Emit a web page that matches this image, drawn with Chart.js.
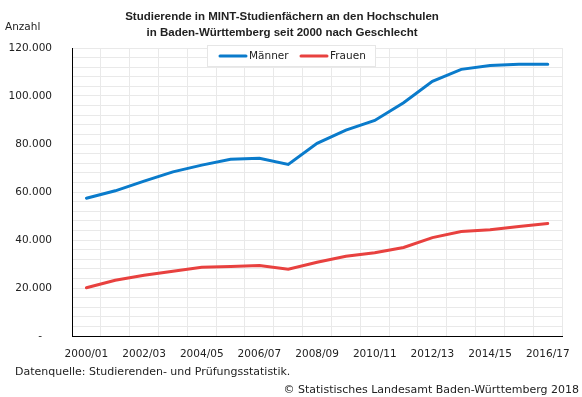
<!DOCTYPE html>
<html>
<head>
<meta charset="utf-8">
<script src="https://cdn.jsdelivr.net/npm/chart.js@4.4.1/dist/chart.umd.min.js"></script>
<style>
  html, body { margin: 0; padding: 0; background: #fff; }
  #wrap { width: 582px; height: 397px; }
</style>
</head>
<body>
<div id="wrap"><canvas id="chart" width="582" height="397"></canvas></div>
<script>
const years = ['2000/01','2001/02','2002/03','2003/04','2004/05','2005/06','2006/07','2007/08','2008/09',
  '2009/10','2010/11','2011/12','2012/13','2013/14','2014/15','2015/16','2016/17'];
const maenner = [57400, 60500, 64500, 68400, 71200, 73600, 74100, 71500, 80300, 85800, 89800, 97200, 106100, 111100, 112700, 113200, 113200];
const frauen = [20100, 23200, 25300, 27000, 28600, 29000, 29400, 27800, 30700, 33200, 34700, 36900, 41000, 43500, 44300, 45600, 46900];
const seriesNames = ['Männer', 'Frauen'];
const yTickValues = [0, 20000, 40000, 60000, 80000, 100000, 120000];
const yTickLabels = ['-   ', '20.000', '40.000', '60.000', '80.000', '100.000', '120.000'];

const FONT = '"DejaVu Sans", Verdana, sans-serif';
const TITLE_FONT = '"Liberation Sans", Arial, sans-serif';
const TEXT = '#222';
const BLUE = '#0a7bcb';
const RED = '#e8413f';

// titles, unit label, source lines and the legend box inside the plot
const decorations = {
  id: 'decorations',
  afterDraw(chart) {
    const ctx = chart.ctx;
    ctx.save();
    ctx.fillStyle = TEXT;
    ctx.textBaseline = 'middle';

    ctx.font = 'bold 11.5px ' + TITLE_FONT;
    ctx.textAlign = 'center';
    ctx.fillText('Studierende in MINT-Studienfächern an den Hochschulen', 282, 17);
    ctx.fillText('in Baden-Württemberg seit 2000 nach Geschlecht', 282, 33);

    ctx.font = '10.5px ' + FONT;
    ctx.textAlign = 'left';
    ctx.fillText('Anzahl', 5, 27);
    ctx.font = '11px ' + FONT;
    ctx.fillText('Datenquelle: Studierenden- und Prüfungsstatistik.', 15, 372);
    ctx.textAlign = 'right';
    ctx.fillText('© Statistisches Landesamt Baden-Württemberg 2018', 579, 390);

    // legend
    ctx.font = '10.5px ' + FONT;
    ctx.fillStyle = '#fff';
    ctx.strokeStyle = '#e6e6e6';
    ctx.lineWidth = 1;
    ctx.fillRect(207, 45, 169, 21);
    ctx.strokeRect(207.5, 45.5, 168, 21);
    const items = chart.data.datasets.map((ds, i) => ({ label: ds.label, color: ds.borderColor, x: [220, 301][i] }));
    items.forEach(it => {
      ctx.strokeStyle = it.color;
      ctx.lineWidth = 3;
      ctx.lineCap = 'round';
      ctx.beginPath();
      ctx.moveTo(it.x, 56);
      ctx.lineTo(it.x + 26, 56);
      ctx.stroke();
      ctx.fillStyle = TEXT;
      ctx.textAlign = 'left';
      ctx.fillText(it.label, it.x + 29, 56);
    });
    ctx.restore();
  }
};

new Chart(document.getElementById('chart'), {
  type: 'line',
  data: {
    labels: years,
    datasets: [
      { label: seriesNames[0], data: maenner, borderColor: BLUE, backgroundColor: BLUE },
      { label: seriesNames[1], data: frauen, borderColor: RED, backgroundColor: RED }
    ]
  },
  options: {
    responsive: false,
    animation: false,
    devicePixelRatio: 1,
    layout: { padding: { top: 48, right: 15, bottom: 31, left: 0 } },
    elements: {
      point: { radius: 0 },
      line: { borderWidth: 3, tension: 0, borderCapStyle: 'round' }
    },
    plugins: {
      legend: { display: false },
      title: { display: false },
      tooltip: { enabled: false }
    },
    scales: {
      x: {
        offset: true,
        grid: { offset: true, color: '#e9e9e9', drawTicks: false },
        border: { color: '#000', width: 1 },
        ticks: {
          autoSkip: false,
          maxRotation: 0,
          padding: 12,
          color: TEXT,
          font: { family: FONT, size: 10.5 },
          callback: (v, i) => (i % 2 === 0 ? years[i] : '')
        },
        afterFit: s => { s.height = 30; }
      },
      y: {
        min: 0,
        max: 120000,
        grid: { color: '#e9e9e9', drawTicks: false },
        border: { color: '#000', width: 1 },
        ticks: {
          stepSize: 4000,
          autoSkip: false,
          padding: 20,
          color: TEXT,
          font: { family: FONT, size: 10.5 },
          callback: v => {
            const k = yTickValues.indexOf(v);
            return k >= 0 ? yTickLabels[k] : '';
          }
        },
        afterFit: s => { s.width = 72; }
      }
    }
  },
  plugins: [decorations]
});
</script>
</body>
</html>
